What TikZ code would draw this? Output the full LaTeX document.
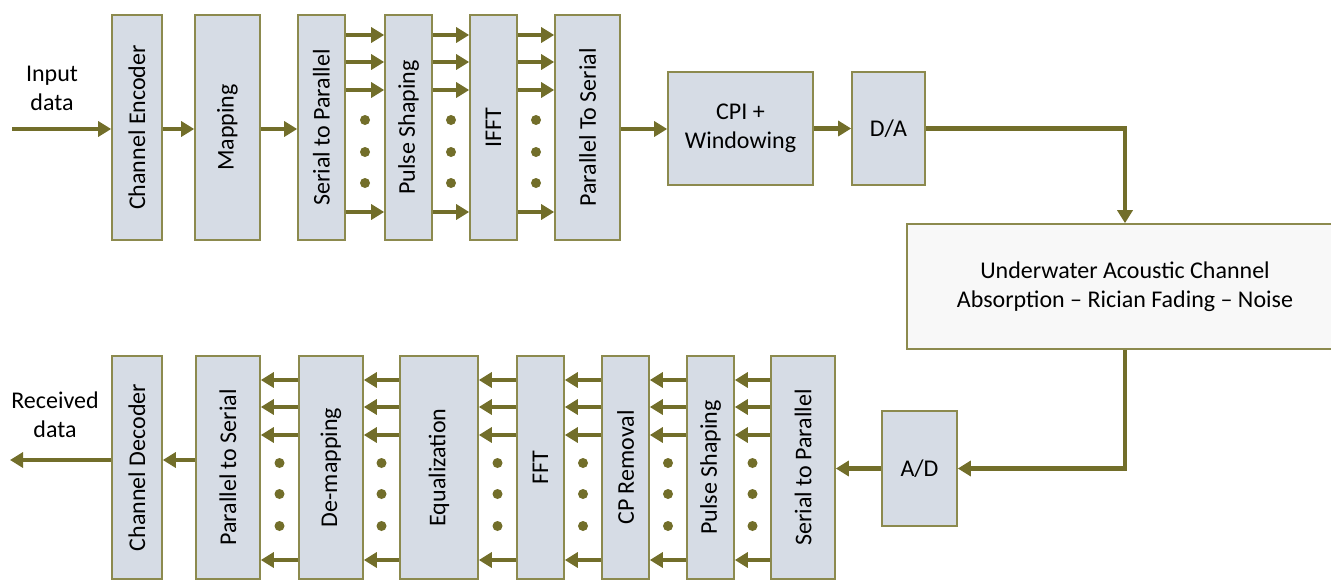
\documentclass[tikz,border=0pt]{standalone}
\usepackage{fontspec}
\setmainfont{Carlito}
\usetikzlibrary{arrows.meta,calc}
\definecolor{boxfill}{HTML}{D6DCE5}
\definecolor{boxline}{HTML}{8C8A4E}
\definecolor{arrcol}{HTML}{726E2A}
\definecolor{uwfill}{HTML}{F8F8F8}
\tikzset{
  blk/.style={draw=boxline, fill=boxfill, line width=1.6pt, inner sep=0pt, align=center,
    font=\fontsize{24}{29}\selectfont},
  arr/.style={draw=arrcol, line width=4.5pt, -{Triangle[length=13pt,width=15pt]}},
  lbl/.style={align=center, font=\fontsize{24}{29}\selectfont},
}
\newcommand{\vtxt}[1]{\rotatebox{90}{#1}}
\begin{document}
\begin{tikzpicture}[x=1pt,y=-1pt]
\useasboundingbox (0,0) rectangle (1331,581);
% top row
\node[blk, minimum width=50, minimum height=225] (ce) at (137,127.5) {\vtxt{Channel Encoder}};
\node[blk, minimum width=65, minimum height=225] (map) at (227.5,127.5) {\vtxt{Mapping}};
\node[blk, minimum width=47, minimum height=225] (s2p) at (321.5,127.5) {\vtxt{Serial to Parallel}};
\node[blk, minimum width=47, minimum height=225] (ps) at (408.5,127.5) {\vtxt{Pulse Shaping}};
\node[blk, minimum width=47, minimum height=225] (ifft) at (493.5,127.5) {\vtxt{IFFT}};
\node[blk, minimum width=65, minimum height=225] (p2s) at (587.5,127.5) {\vtxt{Parallel To Serial}};
\node[blk, minimum width=145, minimum height=113] (cpi) at (740.5,128.5) {CPI +\\Windowing};
\node[blk, minimum width=73, minimum height=113] (da) at (888.5,128.5) {D/A};
\node[blk, fill=uwfill, minimum width=436, minimum height=125] (uw) at (1125,286.5) {Underwater Acoustic Channel\\Absorption -- Rician Fading -- Noise};
\node[blk, minimum width=75, minimum height=115] (ad) at (919.5,468.5) {A/D};
% bottom row
\node[blk, minimum width=50, minimum height=223] (cd) at (137,467.5) {\vtxt{Channel Decoder}};
\node[blk, minimum width=64, minimum height=223] (bp2s) at (228,467.5) {\vtxt{Parallel to Serial}};
\node[blk, minimum width=64, minimum height=223] (dem) at (331,467.5) {\vtxt{De-mapping}};
\node[blk, minimum width=78, minimum height=223] (eq) at (439,467.5) {\vtxt{Equalization}};
\node[blk, minimum width=47, minimum height=223] (fft) at (540.5,467.5) {\vtxt{FFT}};
\node[blk, minimum width=47, minimum height=223] (cpr) at (625.5,467.5) {\vtxt{CP Removal}};
\node[blk, minimum width=47, minimum height=223] (bps) at (710.5,467.5) {\vtxt{Pulse Shaping}};
\node[blk, minimum width=64, minimum height=223] (bs2p) at (803,467.5) {\vtxt{Serial to Parallel}};
% labels
\node[lbl] (inl) at (52,88) {Input\\data};
\node[lbl] (outl) at (55,415) {Received\\data};
\coordinate (inp) at (12,129);
\coordinate (outp) at (10,460);
% top main arrows
\draw[arr] (inp) -- (inp -| ce.west);
\draw[arr] (ce.east |- 0,129) -- (map.west |- 0,129);
\draw[arr] (map.east |- 0,129) -- (s2p.west |- 0,129);
\draw[arr] (p2s.east |- 0,129) -- (cpi.west |- 0,129);
\draw[arr] (cpi.east) -- (da.west);
\draw[arr] (da.east) -| (uw.north);
\draw[arr] (uw.south) |- (ad.east);
% top parallel arrows
\foreach \a/\b in {s2p/ps, ps/ifft, ifft/p2s}{
  \foreach \y in {35,62,90,212}{
    \draw[arr] (\a.east |- 0,\y) -- (\b.west |- 0,\y);
  }
  \foreach \y in {120,152,183}{
    \fill[arrcol] ($(\a.east |- 0,\y)!0.5!(\b.west |- 0,\y)$) circle (5pt);
  }
}
% bottom main arrows
\draw[arr] (ad.west) -- (bs2p.east |- ad.west);
\draw[arr] (bp2s.west |- 0,460) -- (cd.east |- 0,460);
\draw[arr] (cd.west |- 0,460) -- (outp);
% bottom parallel arrows
\foreach \a/\b in {bs2p/bps, bps/cpr, cpr/fft, fft/eq, eq/dem, dem/bp2s}{
  \foreach \y in {380,407,435,560}{
    \draw[arr] (\a.west |- 0,\y) -- (\b.east |- 0,\y);
  }
  \foreach \y in {463,494,526}{
    \fill[arrcol] ($(\a.west |- 0,\y)!0.5!(\b.east |- 0,\y)$) circle (5pt);
  }
}
\end{tikzpicture}
\end{document}
